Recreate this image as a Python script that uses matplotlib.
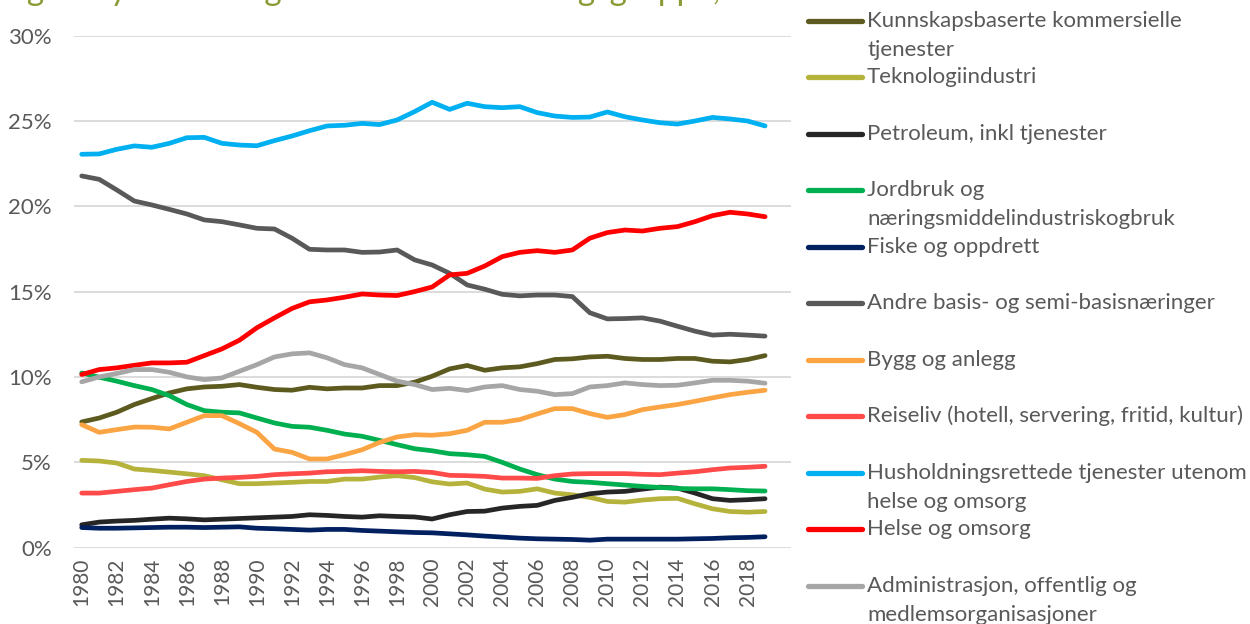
import matplotlib
matplotlib.use("Agg")
import matplotlib.pyplot as plt
from matplotlib.lines import Line2D
from matplotlib.ticker import FuncFormatter, MultipleLocator

plt.rcParams['font.family'] = ['Lato', 'DejaVu Sans']

years = list(range(1980, 2020))

labels = [
    "Kunnskapsbaserte kommersielle\ntjenester",
    "Teknologiindustri",
    "Petroleum, inkl tjenester",
    "Jordbruk og\nnæringsmiddelindustriskogbruk",
    "Fiske og oppdrett",
    "Andre basis- og semi-basisnæringer",
    "Bygg og anlegg",
    "Reiseliv (hotell, servering, fritid, kultur)",
    "Husholdningsrettede tjenester utenom\nhelse og omsorg",
    "Helse og omsorg",
    "Administrasjon, offentlig og\nmedlemsorganisasjoner",
]

colors = ["#5C5A1E", "#B6B33C", "#262626", "#00B050", "#002060", "#595959",
          "#FBA444", "#FF4A4A", "#00B0F0", "#FF0000", "#A6A6A6"]

kunnskap = [7.36, 7.59, 7.93, 8.38, 8.73, 9.06, 9.30, 9.41, 9.45, 9.55,
            9.39, 9.26, 9.22, 9.39, 9.30, 9.35, 9.35, 9.49, 9.49, 9.69,
            10.04, 10.47, 10.67, 10.39, 10.53, 10.59, 10.78, 11.02, 11.06, 11.17,
            11.21, 11.08, 11.02, 11.02, 11.08, 11.08, 10.92, 10.88, 11.02, 11.25]
teknologi = [5.11, 5.07, 4.95, 4.60, 4.52, 4.42, 4.32, 4.21, 3.97, 3.74,
             3.74, 3.78, 3.82, 3.87, 3.87, 4.01, 4.01, 4.13, 4.21, 4.10,
             3.85, 3.72, 3.78, 3.42, 3.25, 3.29, 3.44, 3.19, 3.09, 2.94,
             2.70, 2.66, 2.78, 2.86, 2.88, 2.56, 2.27, 2.11, 2.07, 2.11]
petroleum = [1.33, 1.49, 1.55, 1.59, 1.66, 1.72, 1.68, 1.62, 1.66, 1.70,
             1.74, 1.78, 1.82, 1.92, 1.88, 1.82, 1.78, 1.86, 1.82, 1.79,
             1.67, 1.92, 2.11, 2.13, 2.31, 2.41, 2.47, 2.76, 2.94, 3.15,
             3.25, 3.29, 3.42, 3.54, 3.48, 3.19, 2.86, 2.76, 2.80, 2.86]
jordbruk = [10.23, 9.98, 9.75, 9.49, 9.26, 8.90, 8.38, 8.02, 7.93, 7.89,
            7.59, 7.30, 7.10, 7.05, 6.87, 6.65, 6.52, 6.28, 6.03, 5.79,
            5.67, 5.50, 5.44, 5.34, 4.99, 4.60, 4.27, 4.01, 3.87, 3.82,
            3.74, 3.66, 3.58, 3.52, 3.46, 3.44, 3.44, 3.39, 3.33, 3.31]
fiske = [1.17, 1.13, 1.13, 1.15, 1.17, 1.19, 1.19, 1.17, 1.19, 1.21,
         1.13, 1.10, 1.06, 1.02, 1.06, 1.06, 1.00, 0.96, 0.92, 0.88,
         0.86, 0.80, 0.74, 0.67, 0.61, 0.55, 0.51, 0.49, 0.47, 0.43,
         0.49, 0.49, 0.49, 0.49, 0.49, 0.51, 0.53, 0.57, 0.59, 0.63]
andre = [21.78, 21.58, 20.96, 20.31, 20.08, 19.82, 19.55, 19.20, 19.10, 18.91,
         18.71, 18.67, 18.13, 17.48, 17.44, 17.44, 17.30, 17.32, 17.44, 16.86,
         16.56, 16.07, 15.39, 15.14, 14.84, 14.75, 14.80, 14.80, 14.71, 13.76,
         13.40, 13.42, 13.46, 13.27, 12.97, 12.68, 12.45, 12.50, 12.45, 12.39]
bygg = [7.20, 6.75, 6.91, 7.06, 7.05, 6.95, 7.34, 7.73, 7.73, 7.26,
        6.75, 5.77, 5.58, 5.19, 5.19, 5.44, 5.73, 6.16, 6.48, 6.61,
        6.58, 6.67, 6.87, 7.34, 7.34, 7.50, 7.83, 8.14, 8.14, 7.85,
        7.63, 7.79, 8.08, 8.24, 8.38, 8.57, 8.77, 8.96, 9.10, 9.22]
reiseliv = [3.19, 3.19, 3.29, 3.39, 3.48, 3.68, 3.87, 4.01, 4.07, 4.11,
            4.17, 4.27, 4.32, 4.36, 4.44, 4.46, 4.50, 4.46, 4.44, 4.46,
            4.40, 4.23, 4.21, 4.17, 4.07, 4.07, 4.05, 4.21, 4.31, 4.33,
            4.33, 4.33, 4.29, 4.27, 4.36, 4.44, 4.56, 4.66, 4.70, 4.76]
husholdning = [23.05, 23.07, 23.34, 23.54, 23.46, 23.69, 24.02, 24.04, 23.69, 23.59,
               23.55, 23.85, 24.12, 24.43, 24.71, 24.75, 24.86, 24.79, 25.06, 25.55,
               26.10, 25.68, 26.04, 25.84, 25.78, 25.84, 25.49, 25.29, 25.21, 25.23,
               25.53, 25.25, 25.06, 24.90, 24.82, 25.00, 25.21, 25.12, 25.00, 24.71]
helse = [10.14, 10.43, 10.53, 10.68, 10.82, 10.82, 10.86, 11.25, 11.64, 12.15,
         12.88, 13.46, 14.01, 14.40, 14.51, 14.67, 14.86, 14.80, 14.77, 15.00,
         15.27, 15.98, 16.07, 16.50, 17.05, 17.30, 17.40, 17.30, 17.44, 18.13,
         18.46, 18.61, 18.55, 18.71, 18.81, 19.10, 19.45, 19.65, 19.55, 19.39]
administrasjon = [9.71, 10.00, 10.20, 10.43, 10.43, 10.27, 10.00, 9.84, 9.94, 10.33,
                  10.72, 11.17, 11.35, 11.41, 11.12, 10.72, 10.53, 10.14, 9.75, 9.55,
                  9.26, 9.33, 9.20, 9.41, 9.49, 9.26, 9.16, 8.96, 9.02, 9.41,
                  9.49, 9.65, 9.55, 9.49, 9.51, 9.65, 9.80, 9.80, 9.75, 9.63]

series = [kunnskap, teknologi, petroleum, jordbruk, fiske, andre, bygg,
          reiseliv, husholdning, helse, administrasjon]

title = "Figur: Sysselsettingsandeler etter næringsgruppe, 1980–2019"

W, H = 1250, 624
fig = plt.figure(figsize=(W / 100, H / 100), dpi=100)
ax = fig.add_axes([74 / W, 1 - 547.5 / H, (791 - 74) / W, (547.5 - 35.7) / H])

for vals, col in zip(series, colors):
    ax.plot(years, [v / 100 for v in vals], color=col, lw=3.4,
            solid_capstyle='round', solid_joinstyle='round')

ax.set_ylim(0, 0.30)
ax.set_xlim(1979.56, 2020.48)
ax.yaxis.set_major_locator(MultipleLocator(0.05))
ax.yaxis.set_major_formatter(FuncFormatter(lambda v, p: f"{round(v * 100)}%"))
ax.set_xticks(years[::2])
ax.set_xticklabels([str(y) for y in years[::2]], rotation=90)
ax.grid(axis='y', color='#D9D9D9', lw=1.3)
ax.set_axisbelow(True)
for s in ax.spines.values():
    s.set_visible(False)
ax.tick_params(axis='both', length=0, labelcolor='#595959')
ax.tick_params(axis='y', pad=16, labelsize=16)
ax.tick_params(axis='x', pad=7, labelsize=15)

# legend drawn at right
y0 = 20.7
step = 56.5
for i, (lab, col) in enumerate(zip(labels, colors)):
    yc = y0 + i * step
    fy = 1 - yc / H
    fig.add_artist(Line2D([808 / W, 862 / W], [fy, fy], color=col, lw=3.8,
                          solid_capstyle='round', transform=fig.transFigure))
    for j, line in enumerate(lab.split("\n")):
        fig.text(867 / W, 1 - (yc + j * 29) / H, line, ha='left', va='center',
                 fontsize=16, color='#595959')

fig.text(0, 1.0, title, ha='left', va='baseline', fontsize=24,
         color='#8C9A35')

fig.savefig("out.png", dpi=100)
